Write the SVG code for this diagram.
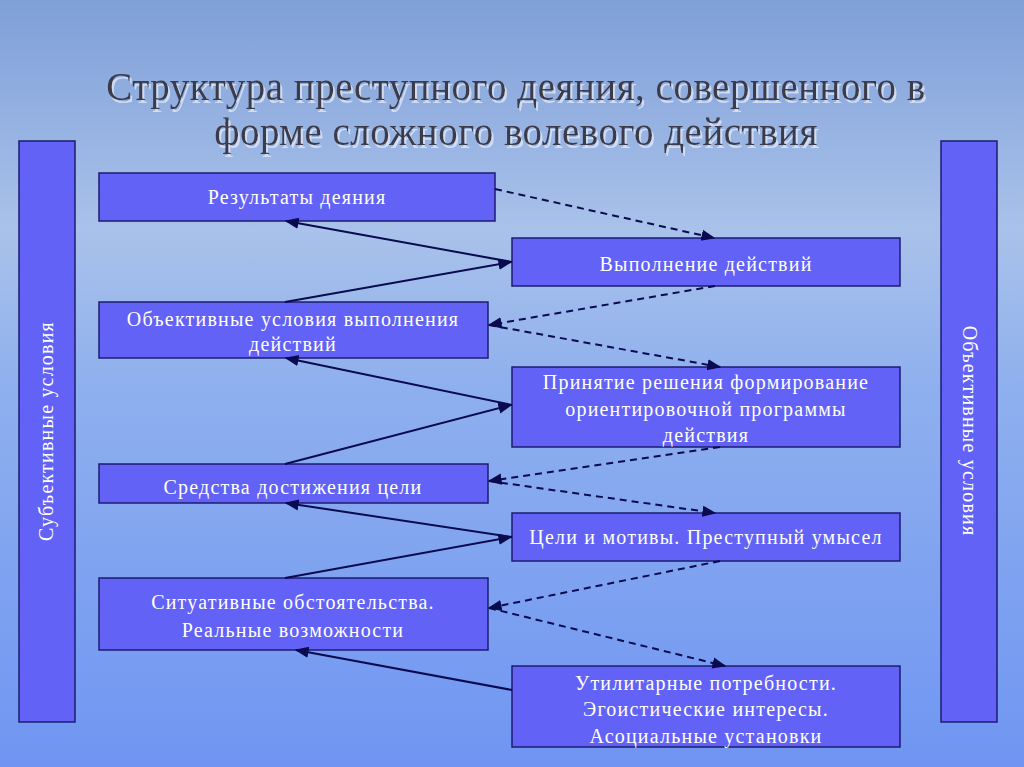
<svg xmlns="http://www.w3.org/2000/svg" width="1024" height="767" viewBox="0 0 1024 767">
<defs>
<linearGradient id="bg" x1="0" y1="0" x2="0" y2="1">
<stop offset="0" stop-color="#7f9fd8"/><stop offset="0.3" stop-color="#a9c2ea"/><stop offset="0.5" stop-color="#8fb0ee"/><stop offset="1" stop-color="#6f95f2"/>
</linearGradient>
<filter id="sh" x="-5%" y="-30%" width="110%" height="160%"><feDropShadow dx="2" dy="3" stdDeviation="0.5" flood-color="#e8eef8" flood-opacity="0.7"/></filter>
<marker id="ah" viewBox="0 0 10 10" refX="9" refY="5" markerWidth="7" markerHeight="7" orient="auto"><path d="M0,1 L10,5 L0,9 z" fill="#0a0a50"/></marker>
<style>
.box{fill:#6262f6;stroke:#1c1c70;stroke-width:1.5}
.t{font-family:"Liberation Serif",serif;font-size:20px;letter-spacing:1.2px;fill:#ffffff;text-anchor:middle}
.s{stroke:#0a0a50;stroke-width:2;fill:none;marker-end:url(#ah)}
.d{stroke:#0a0a50;stroke-width:2;fill:none;stroke-dasharray:7,5;marker-end:url(#ah)}
.title{font-family:"Liberation Serif",serif;font-size:39px;letter-spacing:0.5px;fill:#3a3a4a;text-anchor:middle;filter:url(#sh)}
</style>
</defs>
<rect width="1024" height="767" fill="url(#bg)"/>
<text class="title" x="516" y="100">Структура преступного деяния, совершенного в</text>
<text class="title" x="516" y="145">форме сложного волевого действия</text>
<g id="side-left"><rect class="box" x="19" y="141" width="56" height="581"/><text class="t" transform="translate(53,431) rotate(-90)">Субъективные условия</text></g>
<g id="side-right"><rect class="box" x="941" y="141" width="56" height="581"/><text class="t" transform="translate(963,431) rotate(90)">Объективные условия</text></g>
<g id="l1"><rect class="box" x="99" y="173" width="396" height="48"/><text class="t" x="297" y="204">Результаты деяния</text></g>
<g id="r1"><rect class="box" x="512" y="238" width="388" height="48"/><text class="t" x="706" y="271">Выполнение действий</text></g>
<g id="l2"><rect class="box" x="99" y="302" width="389" height="56"/><text class="t" x="293" y="326">Объективные условия выполнения</text><text class="t" x="293" y="351">действий</text></g>
<g id="r2"><rect class="box" x="512" y="367" width="388" height="80"/><text class="t" x="706" y="389">Принятие решения формирование</text><text class="t" x="706" y="416">ориентировочной программы</text><text class="t" x="706" y="442">действия</text></g>
<g id="l3"><rect class="box" x="99" y="464" width="389" height="39"/><text class="t" x="293" y="494">Средства достижения цели</text></g>
<g id="r3"><rect class="box" x="512" y="513" width="388" height="48"/><text class="t" x="706" y="544">Цели и мотивы. Преступный умысел</text></g>
<g id="l4"><rect class="box" x="99" y="578" width="389" height="72"/><text class="t" x="293" y="609">Ситуативные обстоятельства.</text><text class="t" x="293" y="637">Реальные возможности</text></g>
<g id="r4"><rect class="box" x="512" y="666" width="388" height="81"/><text class="t" x="706" y="690">Утилитарные потребности.</text><text class="t" x="706" y="716">Эгоистические интересы.</text><text class="t" x="706" y="743">Асоциальные установки</text></g>
<g id="connectors">
<line class="s" x1="512" y1="262" x2="286" y2="221"/>
<line class="s" x1="285" y1="302" x2="511" y2="262"/>
<line class="s" x1="512" y1="405" x2="286" y2="358"/>
<line class="s" x1="285" y1="464" x2="511" y2="405"/>
<line class="s" x1="512" y1="537" x2="286" y2="503"/>
<line class="s" x1="285" y1="578" x2="511" y2="537"/>
<line class="s" x1="512" y1="690" x2="296" y2="650"/>
<line class="d" x1="495" y1="189" x2="714" y2="238"/>
<line class="d" x1="715" y1="286" x2="489" y2="325"/>
<line class="d" x1="489" y1="325" x2="720" y2="367"/>
<line class="d" x1="720" y1="447" x2="489" y2="481"/>
<line class="d" x1="489" y1="481" x2="715" y2="513"/>
<line class="d" x1="720" y1="561" x2="489" y2="608"/>
<line class="d" x1="489" y1="608" x2="725" y2="666"/>
</g>
</svg>
